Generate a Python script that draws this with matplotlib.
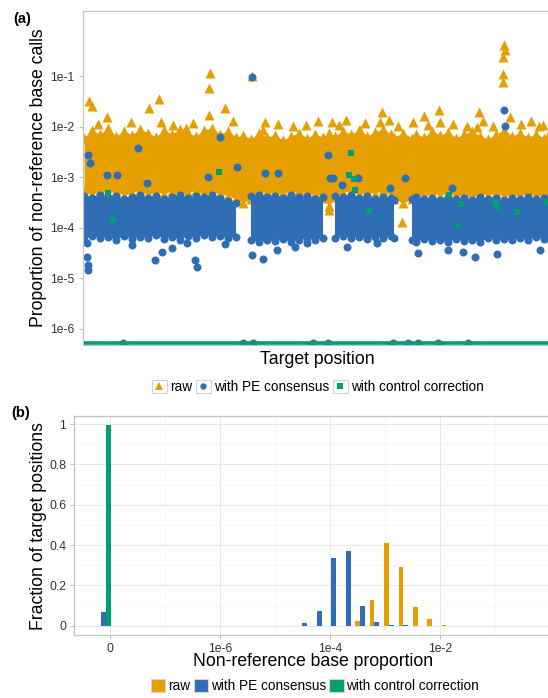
import numpy as np
import matplotlib
matplotlib.use('Agg')
import matplotlib.pyplot as plt
from matplotlib.legend_handler import HandlerBase
from matplotlib.patches import Rectangle, Patch
from matplotlib.lines import Line2D

plt.rcParams['font.family'] = ['Liberation Sans', 'DejaVu Sans']

C_RAW = '#E69F00'
C_PE = '#2F6EB5'
C_CTRL = '#009E73'
series = ['raw', 'with PE consensus', 'with control correction']

# ---------------- Panel (a): per-position proportions (dense bands + outliers) ----
band_pos = [10, 90, 170, 250, 330, 410, 490, 570, 650, 730,
            810, 890, 970, 1050, 1130, 1210, 1290, 1370, 1450, 1530,
            1600, 1680, 1760, 1840, 1920, 2000, 2080, 2160, 2240, 2320,
            2400, 2460, 2520, 2600, 2680, 2760, 2840, 2920, 3000, 3080,
            3110, 3200, 3290, 3330, 3410, 3490, 3570, 3650, 3730, 3810,
            3890, 3970, 4050, 4130, 4210, 4290, 4370, 4450, 4530, 4610,
            4650]
raw_hi = [0.0060, 0.0086, 0.0071, 0.0094, 0.0065, 0.0082, 0.0068, 0.0090, 0.0075, 0.0062,
          0.0086, 0.0071, 0.0090, 0.0075, 0.0065, 0.0086, 0.0094, 0.0071, 0.0082, 0.0062,
          0.0068, 0.0057, 0.0075, 0.0062, 0.0068, 0.0054, 0.0065, 0.0075, 0.0060, 0.0071,
          0.0062, 0.0075, 0.0065, 0.0082, 0.0071, 0.0086, 0.0065, 0.0078, 0.0090, 0.0071,
          0.0062, 0.0075, 0.0060, 0.0071, 0.0062, 0.0082, 0.0068, 0.0078, 0.0060, 0.0071,
          0.0082, 0.0065, 0.0057, 0.0071, 0.0086, 0.0065, 0.0075, 0.0062, 0.0071, 0.0060,
          0.0068]
raw_lo = [0.00051, 0.00044, 0.00056, 0.00047, 0.00054, 0.00043, 0.00049, 0.00056, 0.00044, 0.00051,
          0.00047, 0.00054, 0.00043, 0.00049, 0.00056, 0.00044, 0.00051, 0.00047, 0.00043, 0.00037,
          0.00031, 0.00037, 0.00047, 0.00054, 0.00044, 0.00051, 0.00047, 0.00056, 0.00044, 0.00049,
          0.00039, 0.00027, 0.00041, 0.00049, 0.00054, 0.00044, 0.00051, 0.00047, 0.00056, 0.00043,
          0.00037, 0.00031, 0.00037, 0.00044, 0.00041, 0.00047, 0.00043, 0.00049, 0.00041, 0.00044,
          0.00039, 0.00047, 0.00043, 0.00049, 0.00041, 0.00044, 0.00043, 0.00047, 0.00041, 0.00044,
          0.00043]
nan = np.nan
pe_hi = [0.00042, 0.00039, 0.00044, 0.00041, 0.00042, 0.00037, 0.00041, 0.00044, 0.00039, 0.00042,
         0.00037, 0.00041, 0.00044, 0.00039, 0.00042, 0.00041, 0.00044, 0.00039, 0.00034, 0.00031,
         nan, 0.00042, 0.00044, 0.00041, 0.00042, 0.00039, 0.00044, 0.00041, 0.00042, 0.00037,
         0.00041, nan, 0.00042, 0.00041, 0.00044, 0.00039, 0.00042, 0.00037, 0.00041, 0.00039,
         0.00035, nan, 0.00037, 0.00041, 0.00037, 0.00039, 0.00035, 0.00041, 0.00037, 0.00039,
         0.00035, 0.00041, 0.00037, 0.00039, 0.00035, 0.00039, 0.00037, 0.00041, 0.00037, 0.00039,
         0.00035]
pe_lo = [5.7e-5, 6.9e-5, 6.3e-5, 6.6e-5, 5.7e-5, 6.9e-5, 6.0e-5, 6.6e-5, 6.3e-5, 7.2e-5,
         6.0e-5, 6.6e-5, 5.7e-5, 6.9e-5, 6.3e-5, 7.2e-5, 6.6e-5, 6.9e-5, 6.3e-5, 6.6e-5,
         nan, 5.7e-5, 5.2e-5, 5.7e-5, 5.5e-5, 6.0e-5, 5.2e-5, 5.7e-5, 6.3e-5, 5.7e-5,
         6.3e-5, nan, 6.3e-5, 6.9e-5, 6.3e-5, 6.6e-5, 6.0e-5, 6.6e-5, 6.3e-5, 6.9e-5,
         6.3e-5, nan, 5.7e-5, 5.2e-5, 6.0e-5, 5.5e-5, 5.7e-5, 5.2e-5, 6.0e-5, 5.5e-5,
         5.7e-5, 5.2e-5, 6.3e-5, 5.7e-5, 6.0e-5, 5.7e-5, 6.3e-5, 5.7e-5, 6.6e-5, 6.0e-5,
         6.3e-5]

raw_out_pos = [60, 90, 240, 660, 760, 780, 1030, 1270, 1260, 1260, 1420, 1690, 1820, 1800,
               2230, 2490, 2630, 2990, 2970, 2770, 3060, 3410, 3560, 3570, 3840, 3940, 3960,
               4210, 4220, 4200, 4200, 4200, 4270, 4600, 3190, 2460,
               150, 480, 900, 1100, 1500, 1950, 2100, 2350, 2560, 2820, 3150, 3300, 3450,
               3700, 4000, 4100, 4380, 4480, 4560]
raw_out_val = [0.032, 0.026, 0.0155, 0.023, 0.035, 0.0123, 0.0094, 0.115, 0.058, 0.017, 0.023,
               0.10, 0.0123, 0.0086, 0.0108, 0.0123, 0.0135, 0.019, 0.0123, 0.0086, 0.0135,
               0.016, 0.021, 0.0123, 0.0103, 0.0098, 0.019, 0.41, 0.33, 0.24, 0.11, 0.076,
               0.0155, 0.0108, 0.00013, 0.000225,
               0.0112, 0.0123, 0.0108, 0.0118, 0.0129, 0.0112, 0.0103, 0.0129, 0.0108, 0.0118,
               0.0103, 0.0123, 0.0108, 0.0112, 0.0129, 0.0103, 0.0112, 0.0129, 0.0103]

pe_out_pos = [4210, 4220, 1370, 1690, 550, 340, 640, 1250, 3070, 3690, 3220, 2450, 1540,
              1820, 1950, 2470, 2500, 2590, 2750, 50, 70, 240,
              40, 40, 50, 50, 490, 720, 790, 890, 1040, 1120, 1140, 1420, 1690, 1800, 1940,
              2120, 2240, 2640, 2940, 3350, 3650, 3800, 3920, 4140, 4570]
pe_out_val = [0.021, 0.0103, 0.0062, 0.097, 0.0038, 0.0011, 0.00077, 0.0010, 0.00061, 0.00061,
              0.00096, 0.0028, 0.0016, 0.0012, 0.0012, 0.00096, 0.00096, 0.0007, 0.00096,
              0.0028, 0.0019, 0.0011,
              5.0e-5, 2.65e-5, 1.85e-5, 1.47e-5, 4.6e-5, 2.3e-5, 3.3e-5, 4.0e-5, 5.0e-5, 2.3e-5,
              1.7e-5, 4.8e-5, 2.9e-5, 2.4e-5, 3.6e-5, 4.2e-5, 5.0e-5, 4.2e-5, 5.0e-5, 3.2e-5,
              3.6e-5, 3.3e-5, 2.65e-5, 3.0e-5, 3.6e-5]
zero_floor = 5.3e-7   # positions with proportion 0 drawn at the bottom
pe_zero_pos = [400, 1600, 1700, 2300, 2450, 3100, 3250, 3350, 3550, 3850]
ctrl_pos = [250, 300, 1360, 2680, 2660, 2710, 2720, 2860, 3660, 3780, 3750, 4120, 4140, 4340, 4640]
ctrl_val = [0.00049, 0.000143, 0.00127, 0.0030, 0.0011, 0.00092, 0.00056, 0.000215, 0.00044,
            0.0003, 0.000109, 0.00031, 0.00026, 0.000205, 0.00032]
a_yticks = [1e-1, 1e-2, 1e-3, 1e-4, 1e-5, 1e-6]
a_yticklabels = ['1e-1', '1e-2', '1e-3', '1e-4', '1e-5', '1e-6']

# ---------------- Panel (b): histogram of proportions ----------------
bin_log10 = [-8.12, -4.46, -4.19, -3.93, -3.67, -3.41, -3.15, -2.88, -2.62, -2.36, -2.10, -1.84]
hist_raw = [0.0, 0.0, 0.0, 0.0, 0.0, 0.023, 0.129, 0.41, 0.29, 0.092, 0.031, 0.005]
hist_pe = [0.069, 0.013, 0.074, 0.335, 0.373, 0.097, 0.018, 0.003, 0.003, 0.0, 0.0, 0.0]
hist_ctrl = [0.995, 0.0, 0.0, 0.0, 0.0, 0.0, 0.0, 0.0, 0.0, 0.0, 0.0, 0.0]
b_xticks = [-8, -6, -4, -2]
b_xticklabels = ['0', '1e-6', '1e-4', '1e-2']
b_yticks = [0, 0.2, 0.4, 0.6, 0.8, 1.0]
b_yticklabels = ['0', '0.2', '0.4', '0.6', '0.8', '1']

W, H = 548, 698
fig = plt.figure(figsize=(W / 100, H / 100), dpi=100)
fig.patch.set_facecolor('white')

SPINE = '#c4c4c4'
TICKC = '#b3b3b3'
LABC = '#333333'

def px(x, y):
    return x / W, 1 - y / H

# ---- axes (a)
axA = fig.add_axes([83 / W, 1 - 345 / H, 465 / W, (345 - 11) / H])
pos = np.array(band_pos, float)
axA.fill_between(pos, raw_lo, raw_hi, color=C_RAW, lw=0, zorder=1)
axA.scatter(pos, raw_hi, marker='^', s=52, c=C_RAW, linewidths=0, zorder=1.1)
axA.scatter(pos, raw_lo, marker='^', s=52, c=C_RAW, linewidths=0, zorder=1.1)
axA.scatter(raw_out_pos, raw_out_val, marker='^', s=52, c=C_RAW, linewidths=0, zorder=1.2)
axA.fill_between(pos, pe_lo, pe_hi, color=C_PE, lw=0, zorder=2)
axA.scatter(pos, pe_hi, marker='o', s=33, c=C_PE, linewidths=0, zorder=2.1)
axA.scatter(pos, pe_lo, marker='o', s=33, c=C_PE, linewidths=0, zorder=2.1)
axA.scatter(pe_out_pos, pe_out_val, marker='o', s=33, c=C_PE, linewidths=0, zorder=2.2)
axA.scatter(pe_zero_pos, [zero_floor] * len(pe_zero_pos), marker='o', s=33, c=C_PE,
            linewidths=0, zorder=2.2)
axA.plot(pos, [zero_floor] * len(pos), color=C_CTRL, lw=2.6, solid_capstyle='butt', zorder=3)
axA.scatter(ctrl_pos, ctrl_val, marker='s', s=25, c=C_CTRL, linewidths=0, zorder=3.1)
axA.set_yscale('log')
axA.set_xlim(0, 4650)
axA.set_ylim(4.8e-7, 1.93)
axA.set_yticks(a_yticks)
axA.set_yticklabels(a_yticklabels)
axA.yaxis.set_minor_locator(matplotlib.ticker.NullLocator())
axA.set_xticks([])
axA.tick_params(axis='y', length=3, width=0.6, color=TICKC, labelsize=8.8, labelcolor=LABC, pad=3)
for sp in axA.spines.values():
    sp.set_color(SPINE)
    sp.set_linewidth(0.9)
axA.spines['right'].set_visible(False)

# ---- axes (b)
axB = fig.add_axes([74 / W, 1 - 635 / H, (W - 74) / W, (635 - 416) / H])
bins = np.array(bin_log10)
bw = np.diff(bins[1:]).mean() / 3
axB.bar(bins - bw, hist_raw, width=bw, color=C_RAW, lw=0, zorder=2)
axB.bar(bins, hist_pe, width=bw, color=C_PE, lw=0, zorder=2)
axB.bar(bins + bw, hist_ctrl, width=bw, color=C_CTRL, lw=0, zorder=2)
axB.set_xlim(-8.655, -0.036)
axB.set_ylim(-0.046, 1.04)
axB.set_xticks(b_xticks)
axB.set_xticklabels(b_xticklabels)
axB.set_xticks([-7, -5, -3, -1], minor=True)
axB.set_yticks(b_yticks)
axB.set_yticklabels(b_yticklabels)
axB.set_yticks([0.1, 0.3, 0.5, 0.7, 0.9], minor=True)
axB.grid(True, which='major', color='#e8e8e8', lw=0.7, zorder=0)
axB.grid(True, which='minor', color='#f3f3f3', lw=0.5, zorder=0)
axB.set_axisbelow(True)
axB.tick_params(which='major', length=3, width=0.6, color=TICKC, labelsize=8.8,
                labelcolor=LABC, pad=2.5)
axB.tick_params(which='minor', length=0)
for sp in axB.spines.values():
    sp.set_color(SPINE)
    sp.set_linewidth(0.9)
axB.spines['right'].set_visible(False)

# ---- texts
fig.text(*px(22, 19), '(a)', fontweight='bold', fontsize=10.6, ha='center', va='center')
fig.text(*px(21, 413), '(b)', fontweight='bold', fontsize=10.6, ha='center', va='center')
fig.text(*px(38.5, 178), 'Proportion of non-reference base calls', rotation=90,
         fontsize=12.7, ha='center', va='center')
fig.text(*px(317, 359), 'Target position', fontsize=12.7, ha='center', va='center')
fig.text(*px(38.5, 526), 'Fraction of target positions', rotation=90,
         fontsize=12.7, ha='center', va='center')
fig.text(*px(313, 662), 'Non-reference base proportion', fontsize=12.7, ha='center', va='center')


# ---- legends
class BoxedMarker(HandlerBase):
    def create_artists(self, legend, orig_handle, xdescent, ydescent, width, height,
                       fontsize, trans):
        r = Rectangle((-xdescent, -ydescent), width, height, facecolor='white',
                      edgecolor='#d4d4d4', lw=0.8, transform=trans)
        m = Line2D([width / 2 - xdescent], [height / 2 - ydescent], ls='',
                   marker=orig_handle.get_marker(), color=orig_handle.get_color(),
                   markersize=orig_handle.get_markersize(), markeredgewidth=0,
                   transform=trans)
        return [r, m]


hA = [Line2D([], [], ls='', marker='^', color=C_RAW, markersize=6),
      Line2D([], [], ls='', marker='o', color=C_PE, markersize=4.6),
      Line2D([], [], ls='', marker='s', color=C_CTRL, markersize=4.6)]
fig.legend(hA, series, loc='center', bbox_to_anchor=px(318, 387), ncol=3, frameon=False,
           fontsize=9.8, handlelength=1.1, handleheight=1.1, handletextpad=0.25,
           columnspacing=0.25, borderpad=0, borderaxespad=0,
           handler_map={Line2D: BoxedMarker()})

hB = [Patch(facecolor=c, edgecolor='#d4d4d4', lw=0.8) for c in (C_RAW, C_PE, C_CTRL)]
fig.legend(hB, series, loc='center', bbox_to_anchor=px(315, 686), ncol=3, frameon=False,
           fontsize=9.8, handlelength=1.05, handleheight=1.05, handletextpad=0.2,
           columnspacing=0.25, borderpad=0, borderaxespad=0)

fig.savefig('out.png', dpi=100, facecolor='white')
